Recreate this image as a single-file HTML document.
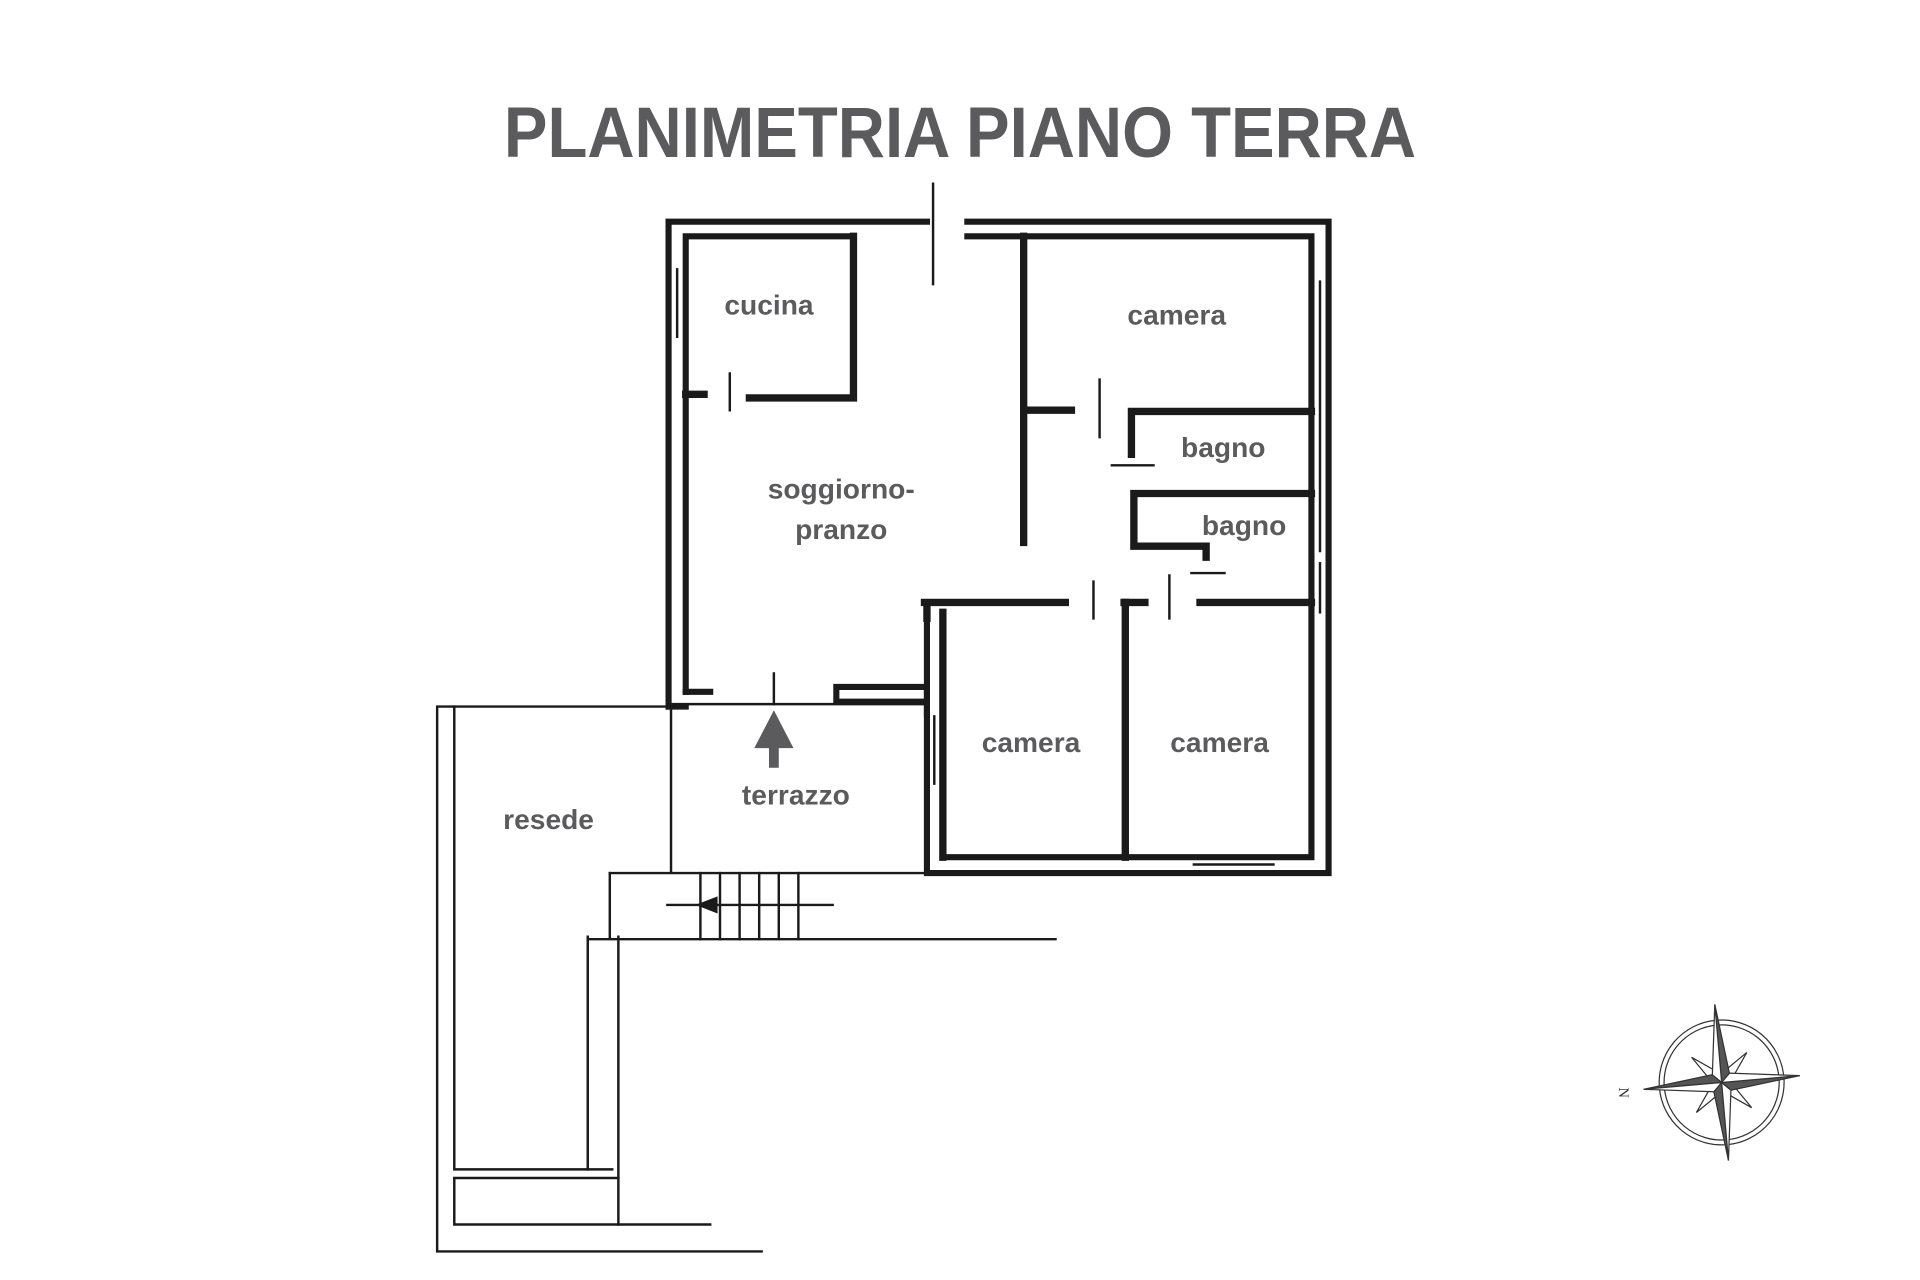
<!DOCTYPE html>
<html><head><meta charset="utf-8"><style>
html,body{margin:0;padding:0;background:#fff;width:1920px;height:1280px;overflow:hidden}
svg{display:block}
.t{font-family:"Liberation Sans",sans-serif;font-weight:bold;fill:#5b5b5d}
</style></head><body>
<svg width="1920" height="1280" viewBox="0 0 1568 1045.3" xmlns="http://www.w3.org/2000/svg">
<text class="t" x="784" y="128" font-size="58" text-anchor="middle" textLength="745" lengthAdjust="spacingAndGlyphs">PLANIMETRIA PIANO TERRA</text>
<g stroke="#1a1a1a" fill="none" stroke-linecap="square">
<g stroke-width="5">
<path d="M546 577 V181 H757 M790 181 H1085 V713 H757 V577"/>
<path d="M560 565 V193 H697 M790 193 H1071 V700 H770 V583"/>
<path d="M546 577 H560 M560 565 H580 M683 561 H757 V583 M683 561 V573 H757"/>
<path d="M757 573 V500"/>
</g>
<g stroke-width="2">
<path d="M553 220 V275 M1078 230 V450 M1078 460 V500 M763 585 V640 M975 706 H1040"/>
<path d="M546 575 H757"/>
</g>
<g stroke-width="6">
<path d="M697 193 V325 H612 M560 322 H575"/>
<path d="M836 193 V443 M836 335 H875"/>
<path d="M1071 336 H924 V371"/>
<path d="M1071 403 H926 V446 H985 V455"/>
<path d="M755 492 H870 M918 492 H935 M980 492 H1071 M757 492 V505 M770 500 V700"/>
<path d="M919 492 V700"/>
</g>
<g stroke-width="2">
<path d="M596 305 V335 M898 310 V357 M908 380 H942 M973 468 H1000 M893 475 V505 M955 470 V505 M762 150 V232 M632 550 V575"/>
</g>
<g stroke-width="2">
<path d="M548 577 V713 M498 713 H757 M357 577 H548 M357 577 V1022 H622"/>
<path d="M371 577 V955 H500 M371 962 H505 M371 962 V1000 H580"/>
<path d="M480 765 V955 M498 713 V767 M505 765 V1000 M480 767 H862"/>
<path d="M572 713 V767 M588 713 V767 M604 713 V767 M620 713 V767 M636 713 V767 M652 713 V767 M545 739 H680"/>
</g>
</g>
<path d="M568 739 L586 732 L586 746 Z" fill="#1a1a1a"/>
<path d="M632 580 L648 611 L636 611 V627 H628 V611 L616 611 Z" fill="#5b5b5d"/>
<g class="t" font-size="23" text-anchor="middle">
<text x="628" y="257">cucina</text>
<text x="961" y="265">camera</text>
<text x="999" y="373">bagno</text>
<text x="1016" y="437">bagno</text>
<text x="687" y="407">soggiorno-</text>
<text x="687" y="440">pranzo</text>
<text x="842" y="614">camera</text>
<text x="996" y="614">camera</text>
<text x="650" y="657">terrazzo</text>
<text x="448" y="677">resede</text>
</g>
<g transform="translate(1406 884) rotate(-5)" stroke="#333" stroke-width="1">
<circle r="51" fill="none"/><circle r="47" fill="none"/>
<path d="M0 0 L18 -18 L6 -6 Z M0 0 L-18 -18 L-6 -6Z M0 0 L18 18 L6 6Z M0 0 L-18 18 L-6 6Z" fill="#fff"/>
<g transform="rotate(45)"><path d="M0 -32 L5 -5 L0 0 L-5 -5Z M0 32 L5 5 L0 0 L-5 5Z M-32 0 L-5 5 L0 0 L-5 -5Z M32 0 L5 5 L0 0 L5 -5Z" fill="#fff"/></g>
<path d="M0 -64 L7 -7 L0 0Z M0 64 L-7 7 L0 0Z M-64 0 L-7 -7 L0 0Z M64 0 L7 7 L0 0Z" fill="#555"/>
<path d="M0 -64 L-7 -7 L0 0Z M0 64 L7 7 L0 0Z M-64 0 L-7 7 L0 0Z M64 0 L7 -7 L0 0Z" fill="#fff"/>
</g>
<text x="1327" y="893" font-family="Liberation Serif,serif" font-size="12" fill="#333" transform="rotate(90 1327 888)">N</text>
</svg>
</body></html>
